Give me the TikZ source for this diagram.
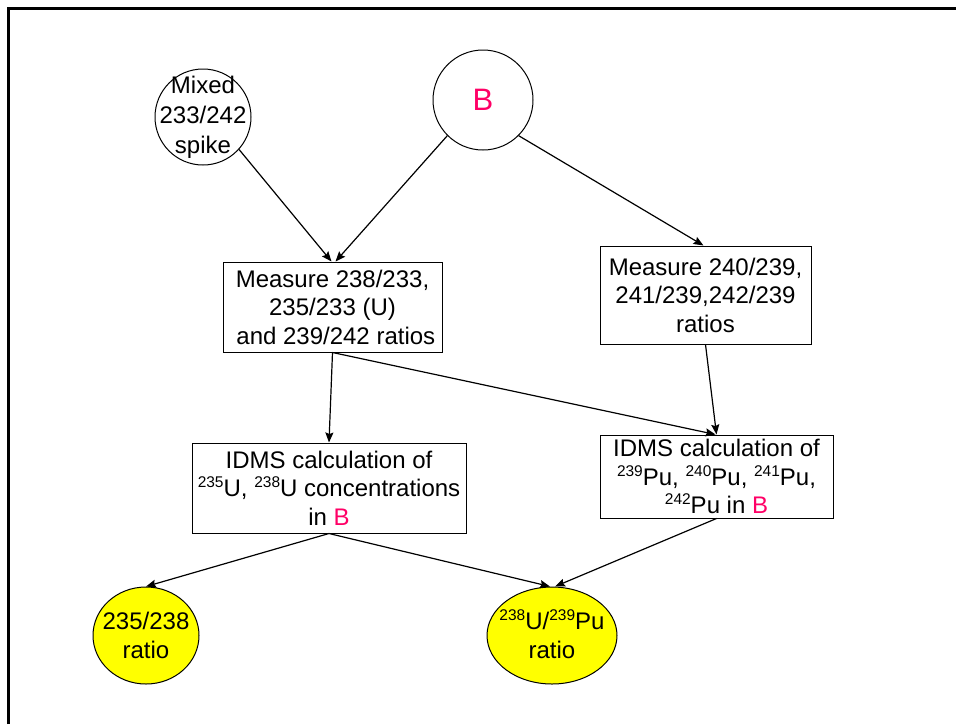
\documentclass[tikz,border=0pt]{standalone}
\usepackage{fontspec}
\setmainfont{Liberation Sans}
\usetikzlibrary{arrows.meta,shapes.geometric}
\definecolor{pinkB}{RGB}{255,0,102}
\definecolor{ylw}{RGB}{255,255,0}
\newcommand{\iso}[1]{\raisebox{9pt}[0pt][0pt]{\fontsize{15.5}{15.5}\selectfont #1}}
\begin{document}
\begin{tikzpicture}[x=1pt,y=-1pt,
  txt/.style={font=\fontsize{24}{28.5}\selectfont, align=center, inner sep=0pt},
  box/.style={txt, draw, line width=1pt, rectangle},
  circ/.style={draw, line width=1pt, circle, inner sep=0pt},
  ell/.style={draw, line width=1pt, ellipse, fill=ylw, inner sep=0pt},
  arr/.style={-{Stealth[length=10pt,width=8pt,inset=1.5pt]}, line width=1.2pt},
]
\useasboundingbox (0,0) rectangle (956,724);
\draw[line width=3pt] (8,724) -- (8,8) -- (956,8);

\node[circ, minimum size=96pt] (mix) at (203,117) {};
\node[txt, font=\fontsize{24}{30}\selectfont] (mixt) at (mix) {Mixed\\233/242\\spike};
\node[circ, minimum size=100pt] (B) at (483,100) {};
\node[txt, text=pinkB, font=\fontsize{31}{31}\selectfont] (Bt) at (B) {B};

\node[box, minimum width=219pt, minimum height=90pt] (m1) at (332.5,307)
  {Measure 238/233,\\235/233 (U)\\ \ and 239/242 ratios};
\node[box, minimum width=211pt, minimum height=98pt] (m2) at (705.5,295)
  {Measure 240/239,\\241/239,242/239\\ratios};
\node[box, minimum width=274pt, minimum height=90pt] (c1) at (329,488)
  {IDMS calculation of\\\iso{235}U, \iso{238}U concentrations\\in \textcolor{pinkB}{B}};
\node[box, minimum width=233pt, minimum height=83pt] (c2) at (716.5,476.5)
  {IDMS calculation of\\\iso{239}Pu, \iso{240}Pu, \iso{241}Pu,\\\iso{242}Pu in \textcolor{pinkB}{B}};

\node[ell, minimum width=106pt, minimum height=97pt] (e1) at (146,635.5) {};
\node[txt] (e1t) at (e1) {235/238\\ratio};
\node[ell, minimum width=130pt, minimum height=97pt] (e2) at (552,635.5) {};
\node[txt] (e2t) at (e2) {\iso{238}U/\iso{239}Pu\\ratio};

\draw[arr] (mix.-42) -- ([xshift=-1pt]m1.north);
\draw[arr] (B.-135) -- ([xshift=3pt]m1.north);
\draw[arr] (B.-45) -- ([xshift=-2pt]m2.north);
\draw[arr] (m1.south) -- (c1.north);
\draw[arr] (m1.south) -- ([xshift=-1pt]c2.north);
\draw[arr] (m2.south) -- (c2.north);
\draw[arr] (c1.south) -- (e1.north);
\draw[arr] (c1.south) -- ([xshift=-2pt]e2.north);
\draw[arr] (c2.south) -- ([xshift=3pt]e2.north);
\end{tikzpicture}
\end{document}
